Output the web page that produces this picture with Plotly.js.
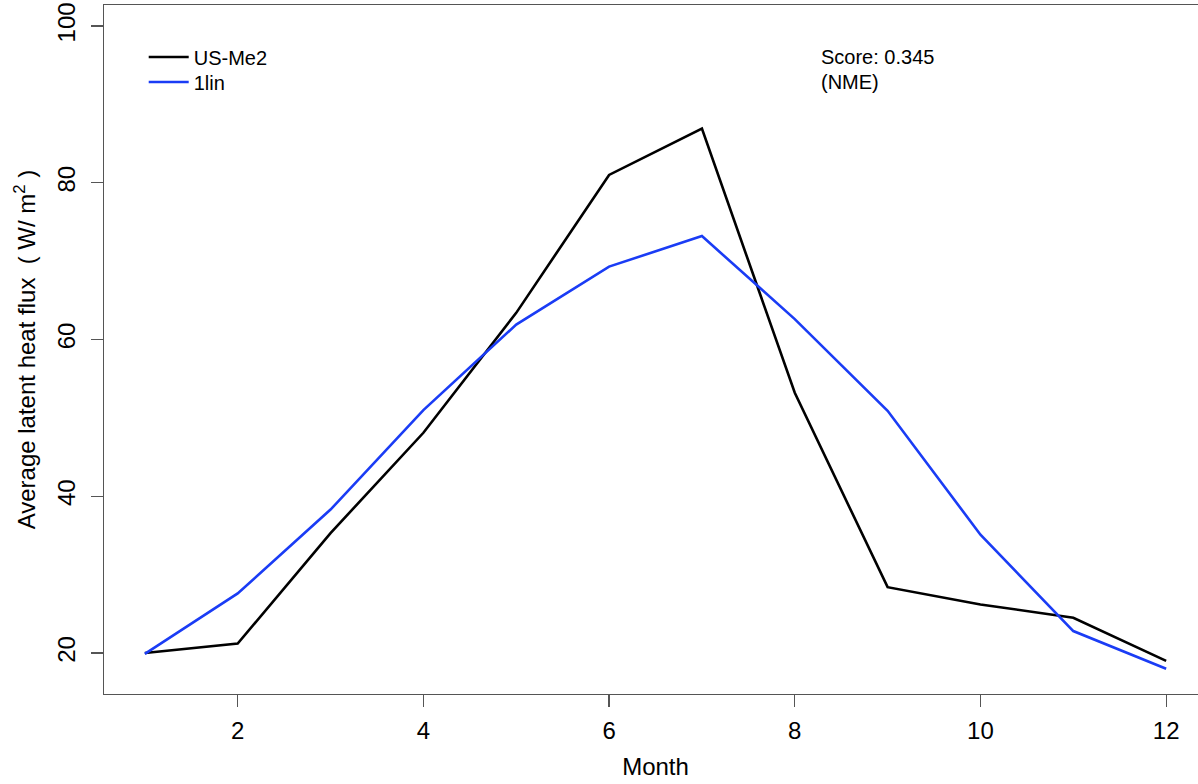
<!DOCTYPE html>
<html>
<head>
<meta charset="utf-8">
<script src="https://cdn.plot.ly/plotly-3.0.1.min.js"></script>
<style>
html,body{margin:0;padding:0;overflow:hidden;background:#fff;}
#chart{width:1210px;height:784px;}
</style>
</head>
<body>
<div id="chart"></div>
<script>
const months = [1,2,3,4,5,6,7,8,9,10,11,12];
const usMe2 = [20.0, 21.2, 35.3, 48.1, 63.4, 81.0, 86.9, 53.2, 28.4, 26.2, 24.5, 19.0];
const lin1  = [19.9, 27.6, 38.3, 51.0, 61.9, 69.3, 73.2, 62.6, 50.9, 35.1, 22.8, 18.0];
const xTicks = [2,4,6,8,10,12];
const yTicks = [20,40,60,80,100];
const scoreLines = ["Score: 0.345", "(NME)"];

const font = "Liberation Sans, Arial, sans-serif";

const traces = [
  {x: months, y: usMe2, type: 'scatter', mode: 'lines', name: 'US-Me2', legend: 'legend',
   line: {color: '#000000', width: 2.6}},
  {x: months, y: lin1, type: 'scatter', mode: 'lines', name: '1lin', legend: 'legend2',
   line: {color: '#1a3cf5', width: 2.6}}
];

const legFont = {family: font, size: 20, color: '#000'};
const layout = {
  width: 1210, height: 784,
  margin: {l: 104, r: 3, t: 5, b: 90},
  paper_bgcolor: '#ffffff', plot_bgcolor: '#ffffff',
  font: {family: font, color: '#000000'},
  showlegend: true,
  legend: {x: 0.036, y: 0.9245, xanchor: 'left', yanchor: 'middle',
           font: legFont, bgcolor: 'rgba(0,0,0,0)', itemwidth: 40},
  legend2: {x: 0.036, y: 0.8882, xanchor: 'left', yanchor: 'middle',
           font: legFont, bgcolor: 'rgba(0,0,0,0)', itemwidth: 40},
  xaxis: {
    range: [0.56, 12.44], tickvals: xTicks, ticktext: xTicks.map(String),
    showgrid: false, zeroline: false,
    showline: true, mirror: true, linecolor: '#555555', linewidth: 1.2,
    ticks: 'outside', ticklen: 12, tickwidth: 1.2, tickcolor: '#555555',
    ticklabelstandoff: 3,
    tickfont: {family: font, size: 24, color: '#000'},
    title: {text: 'Month', font: {family: font, size: 24, color: '#000'}, standoff: 15}
  },
  yaxis: {
    range: [14.77, 102.68], tickvals: yTicks, ticktext: yTicks.map(String),
    showgrid: false, zeroline: false,
    showline: true, mirror: true, linecolor: '#555555', linewidth: 1.2,
    ticks: 'outside', ticklen: 12, tickwidth: 1.2, tickcolor: '#555555',
    tickangle: -90, ticklabelstandoff: 6,
    tickfont: {family: font, size: 24, color: '#000'},
    title: {text: 'Average latent heat flux  ( W/ m<sup>2</sup> )',
            font: {family: font, size: 24, color: '#000'}, standoff: 10}
  },
  annotations: [
    {xref: 'paper', yref: 'paper', x: 0.6482, y: 0.9245, xanchor: 'left', yanchor: 'middle',
     showarrow: false, text: scoreLines[0], font: {family: font, size: 20, color: '#000'}},
    {xref: 'paper', yref: 'paper', x: 0.6482, y: 0.8882, xanchor: 'left', yanchor: 'middle',
     showarrow: false, text: scoreLines[1], font: {family: font, size: 20, color: '#000'}}
  ]
};

Plotly.newPlot('chart', traces, layout, {displayModeBar: false, staticPlot: true});
</script>
</body>
</html>
